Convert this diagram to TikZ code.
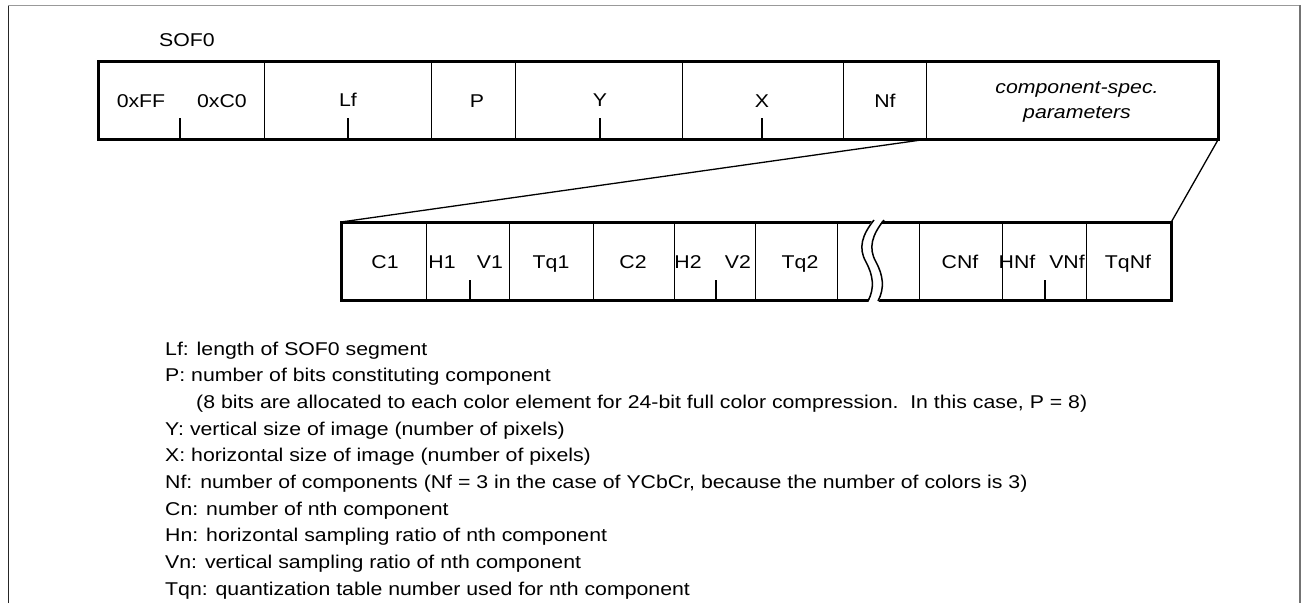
\documentclass[tikz,border=0pt]{standalone}
\usepackage{fontspec}
\setmainfont{Liberation Sans}[FakeStretch=1.15]
\begin{document}
\begin{tikzpicture}[x=1pt,y=-1pt,
  field/.style={draw, line width=1.3pt, inner sep=0pt, minimum height=77pt, anchor=north west},
  lbl/.style={inner sep=0pt, anchor=base, font=\fontsize{18.5}{22}\selectfont},
  ilbl/.style={lbl, font=\fontsize{18.5}{22}\selectfont\itshape},
  leg/.style={inner sep=0pt, anchor=base west, font=\fontsize{18.5}{22}\selectfont},
  tick/.style={line width=1.3pt},
  border/.style={line width=3pt},
  conn/.style={line width=1.3pt}]
\useasboundingbox (0,0) rectangle (1303,603);
% frame
\draw[line width=1pt, black!85] (8,603) -- (8,5);
\draw[line width=1pt, black!40] (8,5) -- (1300,5);
\draw[line width=2pt, black!55] (1300,5) -- (1300,603);

% ---- top row (SOF0) ----
\node[lbl] (sof) at (187,46) {SOF0};
\node[field, minimum width=166pt] (mk)   at (98,61)  {};
\node[field, minimum width=167pt] (lf)   at (264,61) {};
\node[field, minimum width=84pt]  (p)    at (431,61) {};
\node[field, minimum width=167pt] (y)    at (515,61) {};
\node[field, minimum width=161pt] (x)    at (682,61) {};
\node[field, minimum width=83pt]  (nf)   at (843,61) {};
\node[field, minimum width=291pt] (comp) at (926,61) {};
\draw[border] (mk.north west) rectangle (comp.south east);
\draw[tick] (180,118) -- (180,138);
\draw[tick] (348,118) -- (348,138);
\draw[tick] (600,118) -- (600,138);
\draw[tick] (762,118) -- (762,138);
\node[lbl] (tff) at (141,107) {0xFF};
\node[lbl] (tc0) at (222,107) {0xC0};
\node[lbl] (tlf) at (348,106) {Lf};
\node[lbl] (tp)  at (477,107) {P};
\node[lbl] (ty)  at (600,106) {Y};
\node[lbl] (tx)  at (762,107) {X};
\node[lbl] (tnf) at (885,107) {Nf};
\node[ilbl] (tc1) at (1077,93) {component-spec.};
\node[ilbl] (tc2) at (1077,118) {parameters};

% ---- bottom row ----
\node[field, minimum width=85pt] (c1)   at (341,222)  {};
\node[field, minimum width=83pt] (h1)   at (426,222)  {};
\node[field, minimum width=84pt] (tq1)  at (509,222)  {};
\node[field, minimum width=81pt] (c2)   at (593,222)  {};
\node[field, minimum width=81pt] (h2)   at (674,222)  {};
\node[field, minimum width=82pt] (tq2)  at (755,222)  {};
\node[field, minimum width=82pt] (gap)  at (837,222)  {};
\node[field, minimum width=83pt] (cnf)  at (919,222)  {};
\node[field, minimum width=84pt] (hnf)  at (1002,222) {};
\node[field, minimum width=84pt] (tqnf) at (1086,222) {};
\draw[border] (c1.north west) rectangle (tqnf.south east);
\draw[tick] (470,280) -- (470,299);
\draw[tick] (716,280) -- (716,299);
\draw[tick] (1045,280) -- (1045,299);
% break mark
\fill[white] (874,218) .. controls (862,235) and (858,248) .. (866,262)
   .. controls (873,275) and (875,288) .. (868,303)
   -- (878,303) .. controls (885,288) and (883,275) .. (876,262)
   .. controls (868,248) and (872,235) .. (884,218) -- cycle;
\draw[line width=1.5pt] (874,220) .. controls (862,235) and (858,248) .. (866,262)
   .. controls (873,275) and (875,288) .. (868,301);
\draw[line width=1.5pt] (884,220) .. controls (872,235) and (868,248) .. (876,262)
   .. controls (883,275) and (885,288) .. (878,301);

\node[lbl] at (385,268) {C1};
\node[lbl] at (442,268) {H1};
\node[lbl] at (490,268) {V1};
\node[lbl] at (551,268) {Tq1};
\node[lbl] at (633,268) {C2};
\node[lbl] at (688,268) {H2};
\node[lbl] at (738,268) {V2};
\node[lbl] at (800,268) {Tq2};
\node[lbl] at (960,268) {CNf};
\node[lbl] at (1017,268) {HNf};
\node[lbl] at (1067,268) {VNf};
\node[lbl] at (1128,268) {TqNf};

% connectors
\draw[conn] (comp.south west) -- (c1.north west);
\draw[conn] (comp.south east) -- (tqnf.north east);

% ---- legend ----
\node[leg] (l0) at (165,355)   {Lf: length of SOF0 segment};
\node[leg] (l1) at (165,381.7) {P: number of bits constituting component};
\node[leg] (l2) at (196,408.4) {(8 bits are allocated to each color element for 24-bit full color compression.\ \ In this case, P = 8)};
\node[leg] (l3) at (165,435.1) {Y: vertical size of image (number of pixels)};
\node[leg] (l4) at (165,461.8) {X: horizontal size of image (number of pixels)};
\node[leg] (l5) at (165,488.5) {Nf: number of components (Nf = 3 in the case of YCbCr, because the number of colors is 3)};
\node[leg] (l6) at (165,515.2) {Cn: number of nth component};
\node[leg] (l7) at (165,541.9) {Hn: horizontal sampling ratio of nth component};
\node[leg] (l8) at (165,568.6) {Vn: vertical sampling ratio of nth component};
\node[leg] (l9) at (165,595.3) {Tqn: quantization table number used for nth component};
\end{tikzpicture}
\end{document}
